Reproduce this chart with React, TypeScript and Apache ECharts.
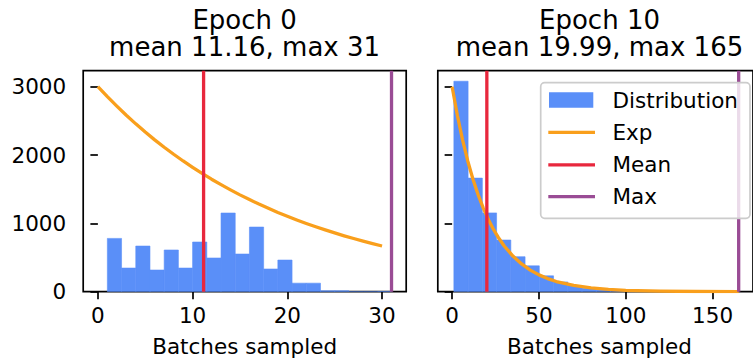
import React, { useEffect, useRef } from "react";
import * as echarts from "echarts";

// ---- data ----
const titles0 = ["Epoch 0", "mean 11.16, max 31"];
const titles10 = ["Epoch 10", "mean 19.99, max 165"];
const xLabel = "Batches sampled";

const binEdges0 = [1, 2.5, 4, 5.5, 7, 8.5, 10, 11.5, 13, 14.5, 16, 17.5, 19, 20.5, 22, 23.5, 25, 26.5, 28, 29.5, 31];
const counts0 = [780, 346, 668, 317, 610, 346, 727, 493, 1151, 551, 946, 332, 463, 125, 125, 14, 14, 0, 0, 2];
const mean0 = 11.16;
const max0 = 31;
const expX0 = [0, 1, 2, 3, 4, 5, 6, 7, 8, 9, 10, 11, 12, 13, 14, 15, 16, 17, 18, 19, 20, 21, 22, 23, 24, 25, 26, 27, 28, 29, 30];
const expY0 = [3000, 2854, 2715, 2582, 2456, 2336, 2222, 2114, 2011, 1913, 1820, 1731, 1646, 1566, 1490, 1417, 1348, 1282, 1220, 1160, 1104, 1050, 999, 950, 904, 860, 818, 778, 740, 704, 669];

const binEdges10 = [1, 9.2, 17.4, 25.6, 33.8, 42, 50.2, 58.4, 66.6, 74.8, 83, 91.2, 99.4, 107.6, 115.8, 124, 132.2, 140.4, 148.6, 156.8, 165];
const counts10 = [3080, 1662, 1153, 756, 512, 378, 232, 143, 85, 52, 30, 18, 10, 6, 4, 2, 1, 1, 0, 1];
const mean10 = 19.99;
const max10 = 165;
const expX10 = [0, 3, 6, 9, 12, 15, 18, 21, 24, 27, 30, 35, 40, 45, 50, 55, 60, 70, 80, 90, 100, 120, 140, 165];
const expY10 = [3000, 2582, 2222, 1913, 1646, 1417, 1220, 1050, 904, 778, 669, 521, 406, 316, 246, 192, 149, 91, 55, 33, 20, 7, 3, 1];

const xTicks0 = [0, 10, 20, 30];
const xTicks10 = [0, 50, 100, 150];
const yTicks = [0, 1000, 2000, 3000];
const legendNames = ["Distribution", "Exp", "Mean", "Max"];

const BLUE = "#5A8FF8";
const ORANGE = "#F99F1C";
const RED = "#E8273D";
const PURPLE = "#9A4C95";
const FONT = "DejaVu Sans";

export default function App() {
  const ref = useRef<HTMLDivElement>(null);
  useEffect(() => {
    const chart = echarts.init(ref.current!, null, { renderer: "svg" });
    const yMax = 3234;
    const grids = [
      { left: 83.2, top: 70.7, width: 323, height: 221 },
      { left: 437.8, top: 70.7, width: 323.4, height: 221 },
    ].map((g) => ({ ...g, show: true, borderColor: "#000", borderWidth: 1.7, backgroundColor: "transparent", containLabel: false }));

    const mkX = (idx: number, min: number, max: number, ticks: number[]) => ({
      type: "value",
      gridIndex: idx,
      min,
      max,
      axisLine: { show: false },
      splitLine: { show: false },
      axisTick: { show: true, customValues: ticks, length: 7.5, lineStyle: { color: "#000", width: 1.7 } },
      axisLabel: { show: true, customValues: ticks, margin: 13, fontFamily: FONT, fontSize: 21.5, color: "#000", formatter: (v: number) => String(v) },
    });
    const mkY = (idx: number, labels: boolean) => ({
      type: "value",
      gridIndex: idx,
      min: 0,
      max: yMax,
      axisLine: { show: false },
      splitLine: { show: false },
      axisTick: { show: true, customValues: yTicks, length: 7.5, lineStyle: { color: "#000", width: 1.7 } },
      axisLabel: { show: labels, customValues: yTicks, margin: 17, fontFamily: FONT, fontSize: 21.5, color: "#000", formatter: (v: number) => String(v) },
    });

    const hist = (idx: number, edges: number[], counts: number[]) => ({
      type: "custom",
      xAxisIndex: idx,
      yAxisIndex: idx,
      clip: true,
      z: 1,
      encode: { x: [0, 1], y: 2 },
      data: counts.map((c, i) => [edges[i], edges[i + 1], c]),
      renderItem: (params: any, api: any) => {
        const p0 = api.coord([api.value(0), api.value(2)]);
        const p1 = api.coord([api.value(1), 0]);
        return {
          type: "rect",
          shape: { x: p0[0], y: p0[1], width: p1[0] - p0[0], height: p1[1] - p0[1] },
          style: { fill: BLUE, stroke: BLUE, lineWidth: 0.6 },
        };
      },
    });
    const expLine = (idx: number, xs: number[], ys: number[]) => ({
      type: "line",
      xAxisIndex: idx,
      yAxisIndex: idx,
      z: 2,
      showSymbol: false,
      symbol: "none",
      smooth: false,
      lineStyle: { color: ORANGE, width: 3.3, join: "round" },
      data: xs.map((x, i) => [x, ys[i]]),
    });
    const vline = (idx: number, x: number, color: string, z: number) => ({
      type: "line",
      xAxisIndex: idx,
      yAxisIndex: idx,
      z,
      symbol: "none",
      lineStyle: { color, width: 3.3 },
      data: [[x, 0], [x, yMax]],
    });

    const titleText = (cx: number, lines: string[]) =>
      lines.map((t, i) => ({
        type: "text",
        x: cx,
        y: 19.5 + i * 27.5,
        style: { text: t, fontFamily: FONT, fontSize: 26, fill: "#000", align: "center", verticalAlign: "middle" },
      }));

    const lgX = 540.7, lgY = 82.7;
    const rowY = [100, 132.3, 164.8, 196.7];
    const legendGraphics: any[] = [
      {
        type: "rect",
        z: 100,
        shape: { x: lgX, y: lgY, width: 209.3, height: 135.6, r: 4 },
        style: { fill: "rgba(255,255,255,0.8)", stroke: "#cccccc", lineWidth: 1.7 },
      },
      {
        type: "rect",
        z: 101,
        shape: { x: 549, y: 92.3, width: 44.3, height: 15.4 },
        style: { fill: BLUE },
      },
      ...[ORANGE, RED, PURPLE].map((c, i) => ({
        type: "line",
        z: 101,
        shape: { x1: 548.3, y1: rowY[i + 1], x2: 595, y2: rowY[i + 1] },
        style: { stroke: c, lineWidth: 3.3 },
      })),
      ...legendNames.map((n, i) => ({
        type: "text",
        z: 101,
        x: 612.5,
        y: rowY[i],
        style: { text: n, fontFamily: FONT, fontSize: 21.5, fill: "#000", align: "left", verticalAlign: "middle" },
      })),
    ];

    const xLabelText = (cx: number) => ({
      type: "text",
      x: cx,
      y: 346.5,
      style: { text: xLabel, fontFamily: FONT, fontSize: 21.5, fill: "#000", align: "center", verticalAlign: "middle" },
    });

    chart.setOption({
      animation: false,
      backgroundColor: "#fff",
      grid: grids,
      xAxis: [mkX(0, -1.55, 32.55, xTicks0), mkX(1, -8.25, 173.25, xTicks10)],
      yAxis: [mkY(0, true), mkY(1, false)],
      series: [
        hist(0, binEdges0, counts0),
        expLine(0, expX0, expY0),
        vline(0, mean0, RED, 3),
        vline(0, max0, PURPLE, 4),
        hist(1, binEdges10, counts10),
        expLine(1, expX10, expY10),
        vline(1, mean10, RED, 3),
        vline(1, max10, PURPLE, 4),
      ],
      graphic: [
        ...titleText(244.6, titles0),
        ...titleText(599.5, titles10),
        xLabelText(244.6),
        xLabelText(599.5),
        ...legendGraphics,
      ],
    });
    return () => chart.dispose();
  }, []);
  return <div ref={ref} style={{ position: "absolute", left: 0, top: 0, width: 753, height: 362 }} />;
}
